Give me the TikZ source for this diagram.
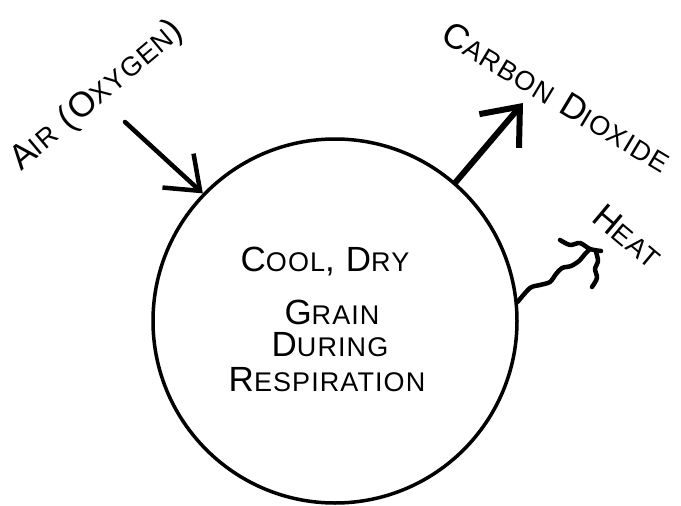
\documentclass[tikz,border=0pt]{standalone}
\usepackage{fontspec}
\newfontfamily\handfont[LetterSpace=4]{Liberation Sans}
\usetikzlibrary{arrows.meta,positioning}
\newcommand{\bigsmall}[2]{#1{\fontsize{27}{31}\selectfont #2}}

\begin{document}
\begin{tikzpicture}[
    x=1pt, y=-1pt,
    ink/.style={line width=4.5pt, line cap=round, line join=round},
    lettering/.style={font=\handfont\fontsize{35}{39}\selectfont, inner sep=0pt},
    flow/.style={ink, -{Straight Barb[length=30pt,width=46pt]}},
]
    \useasboundingbox (0,0) rectangle (681,506);

    \node[circle, draw, line width=3.5pt, minimum size=364pt, inner sep=0pt] (grain) at (335,321) {};
    \node[lettering] (cooldry) at (325,262) {\bigsmall{C}{OOL}, \bigsmall{D}{RY}};
    \node[lettering] (graintext) at (332,312) {\bigsmall{G}{RAIN}};
    \node[lettering] (during) at (330,345) {\bigsmall{D}{URING}};
    \node[lettering] (respiration) at (327,380) {\bigsmall{R}{ESPIRATION}};

    \node[lettering, rotate=40] (air) at (97,96) {\bigsmall{A}{IR} (\bigsmall{O}{XYGEN})};
    \node[lettering, rotate=-31] (carbon) at (557,97) {\bigsmall{C}{ARBON} \bigsmall{D}{IOXIDE}};
    \node[lettering, rotate=-40] (heat) at (628,236) {\bigsmall{H}{EAT}};

    \coordinate (airin) at (125,122);
    \coordinate (co2out) at (523,103);

    \draw[flow] (airin) -- (grain.136);
    \draw[flow, line width=6pt, -{Straight Barb[length=32pt,width=52pt]}] (grain.49) -- (co2out);

    % heat squiggle
    \draw[ink] plot[smooth] coordinates {(grain.6) (530,288) (540,285) (550,282) (556,274) (562,268) (571,266) (579,261) (585,254) (590,249)};
    \draw[ink] plot[smooth] coordinates {(560,240) (570,245) (580,243) (590,249) (601,251)};
    \draw[ink] plot[smooth] coordinates {(596,252) (598,261) (595,269) (597,278) (592,287)};
\end{tikzpicture}
\end{document}
